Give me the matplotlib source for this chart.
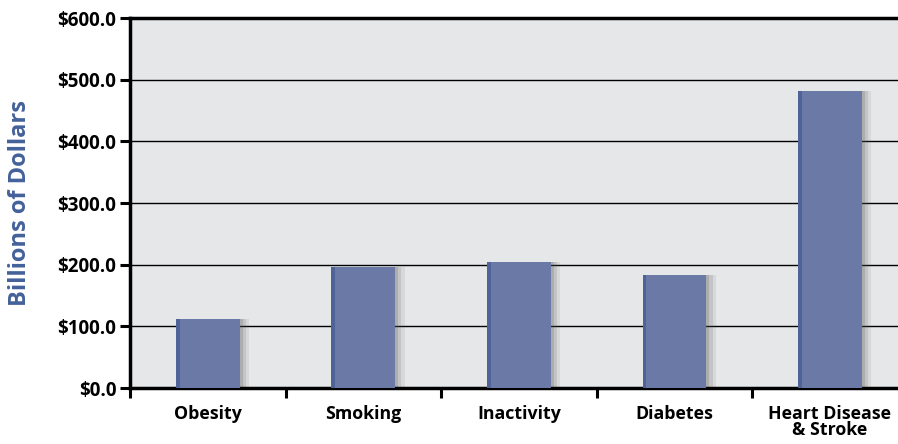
import numpy as np
import matplotlib.pyplot as plt
from matplotlib.ticker import FuncFormatter

# values in billions of dollars
categories = ["Obesity", "Smoking", "Inactivity", "Diabetes", "Heart Disease\n& Stroke"]
costs = [112.0, 196.0, 204.0, 184.0, 482.0]
y_ticks = [0, 100, 200, 300, 400, 500, 600]

bar_col = "#6b79a6"
edge_col = "#4a5e95"
bg_col = "#e6e7e9"
label_col = "#44619a"

plt.rcParams["font.family"] = ["Open Sans", "DejaVu Sans"]

fig = plt.figure(figsize=(8.98, 4.44), dpi=100)
ax = fig.add_axes([0.1448, 0.126, 0.866, 0.833])
ax.set_facecolor(bg_col)

x = np.arange(len(categories))
w = 0.41

# soft shadow to the right of each bar
for dx, a in [(0.06, 0.10), (0.04, 0.15), (0.02, 0.2)]:
    ax.bar(x + dx, costs, width=w, color="#555555", alpha=a, zorder=2, linewidth=0)
ax.bar(x, costs, width=w, color=bar_col, zorder=3, linewidth=0)
# darker left edge of bars
ax.bar(x - w / 2 + 0.012, costs, width=0.024, color=edge_col, alpha=0.8, zorder=4, linewidth=0)

ax.set_xlim(-0.5, len(categories) - 0.5)
ax.set_ylim(0, 600)
ax.set_yticks(y_ticks)
ax.yaxis.set_major_formatter(FuncFormatter(lambda v, p: "${:.1f}".format(v)))
ax.grid(axis="y", color="black", linewidth=1.0, zorder=1)
ax.set_axisbelow(True)

ax.set_xticks(x)
ax.set_xticklabels(categories, fontweight="bold", fontsize=12.8, linespacing=0.85)
ax.set_xticks(np.arange(len(categories)) - 0.5, minor=True)
ax.tick_params(axis="x", which="major", length=0, pad=12)
ax.tick_params(axis="x", which="minor", length=7, width=2.2, direction="out")
ax.tick_params(axis="y", length=7, width=2.2, direction="out", pad=3, labelsize=13.5)
for lab in ax.get_yticklabels():
    lab.set_fontweight("bold")

for s in ["left", "bottom", "top"]:
    ax.spines[s].set_linewidth(2.5)
ax.spines["right"].set_visible(False)

ax.set_ylabel("Billions of Dollars", fontsize=17, fontweight="bold", color=label_col)
ax.yaxis.set_label_coords(-0.126, 0.5)

fig.savefig("out.png", dpi=100)
